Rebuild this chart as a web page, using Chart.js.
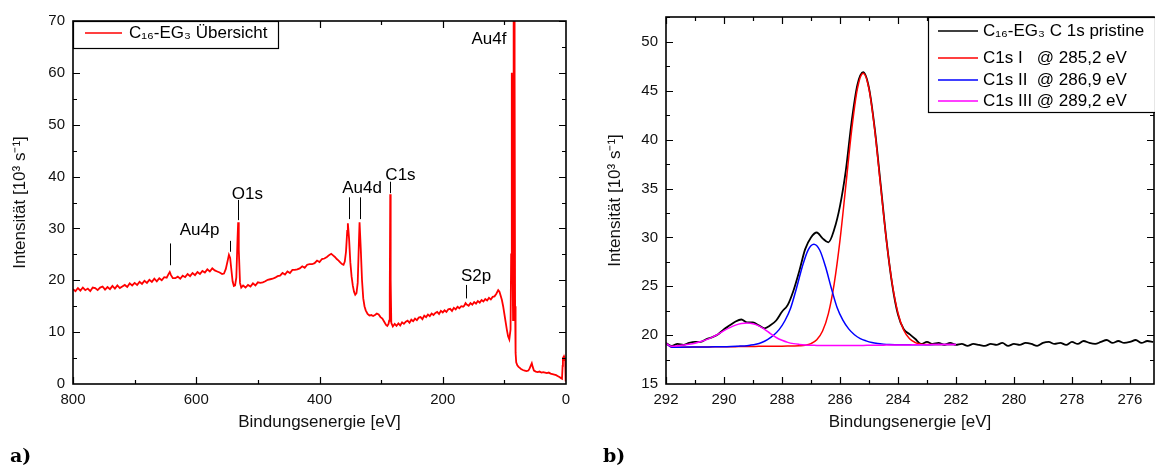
<!DOCTYPE html>
<html>
<head>
<meta charset="utf-8">
<script src="https://cdn.jsdelivr.net/npm/chart.js@4.4.1/dist/chart.umd.min.js"></script>
<style>
  body { margin: 0; background: #fff; width: 1155px; height: 466px; overflow: hidden; position: relative; }
  .panel { position: absolute; top: 0; }
  .tag { position: absolute; top: 446px; font: bold 19px 'DejaVu Serif', 'Liberation Serif', serif; line-height: 19px; color: #000; }
</style>
</head>
<body>
<canvas id="survey" class="panel" width="580" height="466" style="left:0"></canvas>
<canvas id="detail" class="panel" width="575" height="466" style="left:580px"></canvas>
<div class="tag" style="left:10px">a)</div>
<div class="tag" style="left:603px">b)</div>
<script>
// ---- a) survey spectrum ----
const surveyEnergy = [
  800, 796, 792, 788, 784, 780, 776, 772, 768, 764, 760, 756, 752, 748, 744, 740, 736, 732,
  728, 724, 720, 716, 712, 708, 704, 700, 696, 692, 688, 684, 680, 676, 672, 668, 664, 660,
  656, 652, 648, 645, 643, 641, 638, 634, 630, 626, 622, 618, 614, 610, 606, 602, 598, 594,
  590, 586, 582, 578, 574, 570, 566, 562, 558, 555, 552, 549, 547, 545, 543, 541, 539, 537,
  535, 533, 532, 531, 529, 527,
  524, 520, 516, 512, 508, 504, 500, 496, 492, 488, 484, 480, 476, 472, 468, 464, 460, 456,
  452, 448, 444, 440, 436, 432, 428, 424, 420, 416, 412, 408, 404, 400, 396, 392, 388, 384,
  381, 378, 375, 372, 369, 366, 363, 361, 359, 357, 355, 354, 352, 350, 348, 346, 344, 342,
  340, 338, 336, 335, 333, 331, 329, 327, 325, 322, 319, 316, 313, 310, 307, 304, 301, 298,
  295, 292, 290, 288, 287, 286, 285.2, 284.5, 283.5,
  281, 278, 275, 272, 269, 266, 263, 260, 257, 254, 251, 248, 245, 242, 239, 236, 233, 230,
  227, 224, 221, 218, 215, 212, 209, 206, 203, 200, 197, 194, 191, 188, 185, 182, 179, 176,
  173, 170, 167, 165, 163, 161, 158, 155, 152, 149, 146, 143, 140, 137, 134, 131, 128, 125,
  122, 119, 116, 113, 110,
  108, 106, 104, 102, 100, 98, 96, 94, 92, 90, 89, 88.2, 87.7, 87.2, 86.5, 85.9, 85.3, 84.6,
  84, 83.4, 82.6, 81.8, 80.8, 79, 77, 75, 73, 70, 67, 64, 61, 59, 57, 55.5, 54, 52,
  49, 46, 43, 40, 37, 34, 31, 28, 25, 22, 19, 16, 13, 10, 8, 6.5, 5.5, 5,
  4, 3, 2, 1.3, 0.8, 0.3
]
const surveyCounts = [
  18.3, 17.9, 18.5, 18.0, 18.6, 18.1, 18.4, 17.9, 18.6, 18.5, 18.1, 18.6, 18.8, 18.2, 18.7, 18.3, 18.9, 18.4,
  19.0, 18.5, 18.8, 19.1, 18.7, 19.4, 19.0, 19.5, 19.1, 19.7, 19.3, 19.9, 19.5, 20.1, 19.7, 20.3, 19.8, 20.4,
  20.0, 20.6, 20.5, 21.2, 21.6, 21.0, 20.4, 20.4, 20.7, 20.3, 20.9, 20.6, 21.2, 20.8, 21.4, 21.0, 21.6, 21.2,
  21.8, 21.5, 22.1, 21.7, 22.3, 21.9, 21.7, 21.5, 21.2, 21.3, 22.2, 23.8, 24.9, 24.3, 22.0, 19.8, 18.9, 19.0,
  20.5, 28.0, 31.2, 26.0, 19.5, 18.6,
  19.0, 18.6, 19.1, 18.8, 19.4, 19.0, 19.6, 19.5, 19.6, 19.8, 20.1, 20.2, 20.3, 20.5, 20.8, 20.9, 21.4, 21.1,
  21.7, 21.4, 22.0, 22.0, 22.1, 22.3, 22.7, 22.4, 23.0, 23.1, 23.1, 23.3, 23.8, 23.5, 24.1, 24.2, 24.5, 24.9,
  25.1, 24.8, 24.5, 24.1, 23.8, 23.4, 23.1, 23.0, 23.6, 25.5, 29.5, 31.0, 28.0, 23.5, 20.8, 19.0, 17.8, 17.2,
  17.5, 19.5, 27.5, 31.2, 26.0, 20.0, 16.5, 15.0, 14.2, 13.5, 13.2, 13.3, 13.1, 13.3, 13.6, 13.4, 12.9, 12.6,
  12.0, 11.4, 11.2, 11.6, 12.2, 17.0, 36.6, 20.0, 11.8,
  11.1, 11.6, 11.2, 11.7, 11.3, 11.9, 11.6, 12.0, 12.2, 11.8, 12.4, 12.1, 12.6, 12.3, 12.8, 12.9, 12.5, 13.2,
  12.9, 13.4, 13.1, 13.6, 13.3, 13.7, 13.9, 13.5, 14.1, 13.8, 14.2, 13.9, 14.4, 14.5, 14.1, 14.7, 14.4, 14.9,
  14.6, 15.0, 14.9, 15.1, 15.6, 15.3, 15.1, 15.6, 15.3, 15.8, 15.5, 16.0, 15.7, 16.2, 15.9, 16.4, 16.1, 16.6,
  16.3, 16.8, 16.9, 17.4, 18.1,
  17.8, 17.0, 16.2, 15.0, 13.5, 12.0, 10.5, 9.2, 8.6, 10.5, 25, 55, 60, 50, 20, 12.3, 20, 70,
  95, 60, 15, 6, 4.2, 3.6, 3.3, 3.1, 2.9, 2.7, 2.6, 2.5, 2.6, 3.0, 3.6, 4.0, 3.3, 2.6,
  2.4, 2.3, 2.4, 2.2, 2.3, 2.2, 2.1, 2.2, 2.0, 1.9, 1.8, 1.7, 1.5, 1.3, 1.1, 1.0, 3.5, 5.0,
  5.2, 4.6, 5.0, 4.8, 2.0, 0.5
]
const surveyTicksX = [800, 600, 400, 200, 0]
const surveyMinorX = [700, 500, 300, 100]
const surveyTicksY = [0, 10, 20, 30, 40, 50, 60, 70]
const surveyMinorY = [5, 15, 25, 35, 45, 55, 65]

// peak labels and the little marker strokes above the peaks
const peakNames = ['Au4f', 'C1s', 'Au4d', 'O1s', 'Au4p', 'S2p']
const nameEnergy = [125, 268.6, 331, 517, 594.7, 146]
const nameLevel = [66.5, 40.3, 37.7, 36.6, 29.7, 20.7]
const markEnergy = [643, 546, 532.5, 352.5, 335, 285.5, 163]
const markFrom = [22.9, 25.5, 31.6, 31.8, 31.8, 36.8, 16.5]
const markTo = [27.1, 27.6, 35.5, 36.0, 36.0, 39.0, 19.1]

// ---- b) C 1s detail ----
const measEnergy = [
  292.0, 291.8, 291.6, 291.4, 291.2, 291.0, 290.8, 290.6, 290.4, 290.2,
  290.0, 289.8, 289.6, 289.4, 289.2, 289.0, 288.8, 288.6, 288.4, 288.2,
  288.0, 287.8, 287.6, 287.4, 287.2, 287.0, 286.8, 286.6, 286.4, 286.2,
  286.0, 285.8, 285.6, 285.4, 285.2, 285.0, 284.8, 284.6, 284.4, 284.2,
  284.0, 283.8, 283.6, 283.4, 283.2, 283.0, 282.8, 282.6, 282.4, 282.2,
  282.0, 281.8, 281.6, 281.4, 281.2, 281.0, 280.8, 280.6, 280.4, 280.2,
  280.0, 279.8, 279.6, 279.4, 279.2, 279.0, 278.8, 278.6, 278.4, 278.2,
  278.0, 277.8, 277.6, 277.4, 277.2, 277.0, 276.8, 276.6, 276.4, 276.2,
  276.0, 275.8, 275.6, 275.4, 275.2
]
const measCounts = [
  19.2, 18.9, 19.1, 19.0, 19.2, 19.3, 19.3, 19.6, 19.8, 20.1,
  20.6, 21.0, 21.4, 21.6, 21.3, 21.3, 21.0, 20.7, 21.0, 21.5,
  22.4, 23.1, 24.6, 26.6, 28.8, 30.0, 30.5, 29.9, 29.5, 30.8,
  33.2, 36.8, 41.8, 45.6, 46.9, 45.3, 41.1, 35.5, 29.8, 25.2,
  22.1, 20.6, 20.1, 19.6, 19.1, 19.3, 19.1, 19.2, 19.0, 19.2,
  19.0, 19.1, 18.9, 19.1, 19.0, 18.9, 19.1, 19.0, 19.2, 18.9,
  19.1, 19.0, 19.2, 19.1, 18.9, 19.2, 19.3, 19.1, 19.2, 19.0,
  19.3, 19.1, 19.4, 19.2, 19.1, 19.3, 19.5, 19.2, 19.4, 19.2,
  19.3, 19.5, 19.2, 19.4, 19.3
]
const fitEnergy = [
  292.0, 291.8, 291.6, 291.4, 291.2, 291.0, 290.8, 290.6, 290.4, 290.2,
  290.0, 289.8, 289.6, 289.4, 289.2, 289.0, 288.8, 288.6, 288.4, 288.2,
  288.0, 287.8, 287.6, 287.4, 287.2, 287.0, 286.8, 286.6, 286.4, 286.2,
  286.0, 285.8, 285.6, 285.4, 285.2, 285.0, 284.8, 284.6, 284.4, 284.2,
  284.0, 283.8, 283.6, 283.4, 283.2, 283.0, 282.8, 282.6, 282.4, 282.2,
  282.0
]
const peak1Counts = [
  19.15, 18.76, 18.76, 18.77, 18.77, 18.78, 18.79, 18.79, 18.80, 18.80,
  18.81, 18.82, 18.82, 18.83, 18.83, 18.84, 18.85, 18.85, 18.86, 18.86,
  18.87, 18.88, 18.89, 18.91, 18.96, 19.13, 19.53, 20.42, 22.2, 25.24,
  29.69, 35.25, 40.9, 45.2, 46.8, 45.2, 40.95, 35.3, 29.75, 25.3,
  22.27, 20.5, 19.63, 19.24, 19.08, 19.04, 19.03, 19.04, 19.04, 19.05,
  19.05
]
const peak3Counts = [
  19.15, 18.86, 18.92, 18.99, 19.07, 19.18, 19.34, 19.54, 19.80, 20.10,
  20.46, 20.77, 21.02, 21.18, 21.23, 21.16, 20.95, 20.60, 20.16, 19.76,
  19.47, 19.26, 19.13, 19.05, 18.99, 18.96, 18.95, 18.93, 18.93, 18.93,
  18.94, 18.94, 18.94, 18.95, 18.95, 18.96, 18.97, 18.97, 18.98, 18.98,
  18.99, 19.00, 19.00, 19.01, 19.01, 19.02, 19.03, 19.03, 19.04, 19.04,
  19.05
]
const peak2Energy = [
  292.0, 291.8, 291.5, 291.1, 290.7, 290.3, 289.9, 289.5, 289.3, 289.1,
  288.9, 288.7, 288.5, 288.3, 288.1, 287.9, 287.7, 287.5, 287.3, 287.1,
  286.9, 286.7, 286.5, 286.3, 286.1, 285.9, 285.7, 285.5, 285.3, 285.1,
  284.9, 284.7, 284.5, 284.3, 284.1, 283.7, 283.3, 282.9, 282.5, 282.0
]
const peak2Counts = [
  19.15, 18.76, 18.77, 18.78, 18.79, 18.80, 18.82, 18.87, 18.90, 18.97,
  19.07, 19.25, 19.55, 19.96, 20.56, 21.47, 22.78, 24.8, 27.0, 28.7,
  29.3, 28.71, 27.02, 24.82, 22.83, 21.53, 20.64, 20.04, 19.65, 19.41,
  19.24, 19.14, 19.08, 19.04, 19.02, 19.01, 19.01, 19.02, 19.04, 19.05
]
const detailTicksX = [292, 290, 288, 286, 284, 282, 280, 278, 276]
const detailMinorX = [291, 289, 287, 285, 283, 281, 279, 277, 275]
const detailTicksY = [15, 20, 25, 30, 35, 40, 45, 50]
const detailMinorY = [17.5, 22.5, 27.5, 32.5, 37.5, 42.5, 47.5, 52.5]

const surveyLegend = [{ text: 'C₁₆-EG₃ Übersicht', color: '#ff0000' }]
const detailLegend = [
  { text: 'C₁₆-EG₃ C 1s pristine', color: '#000000' },
  { text: 'C1s I   @ 285,2 eV', color: '#ff0000' },
  { text: 'C1s II  @ 286,9 eV', color: '#0000ff' },
  { text: 'C1s III @ 289,2 eV', color: '#ff00ff' }
]

const FAMILY = "'Liberation Sans', Arial, sans-serif"
const pts = (xs, ys) => xs.map((x, i) => ({ x, y: ys[i] }))

function frameTicks(xMajor, xMinor, yMajor, yMinor) {
  return {
    id: 'frameTicks',
    afterDatasetsDraw(chart) {
      const { ctx, chartArea: a, scales: { x, y } } = chart
      ctx.save()
      ctx.strokeStyle = '#000'
      ctx.lineWidth = 1.2
      ctx.beginPath()
      const vx = (v, len) => {
        const p = Math.round(x.getPixelForValue(v)) + 0.5
        if (p < a.left || p > a.right) return
        ctx.moveTo(p, a.bottom); ctx.lineTo(p, a.bottom - len)
        ctx.moveTo(p, a.top); ctx.lineTo(p, a.top + len)
      }
      const vy = (v, len) => {
        const p = Math.round(y.getPixelForValue(v)) + 0.5
        if (p < a.top || p > a.bottom) return
        ctx.moveTo(a.left, p); ctx.lineTo(a.left + len, p)
        ctx.moveTo(a.right, p); ctx.lineTo(a.right - len, p)
      }
      xMajor.forEach(v => vx(v, 7)); xMinor.forEach(v => vx(v, 4))
      yMajor.forEach(v => vy(v, 7)); yMinor.forEach(v => vy(v, 4))
      ctx.stroke()
      ctx.lineWidth = 1.6
      ctx.strokeRect(a.left, a.top, a.right - a.left, a.bottom - a.top)
      ctx.restore()
    }
  }
}

// boxed legend drawn inside the plot, line sample + text per row
function boxLegend(items, box) {
  return {
    id: 'boxLegend',
    afterDraw(chart) {
      const { ctx, chartArea: a } = chart
      const left = a.left + box.dx, top = a.top
      ctx.save()
      ctx.fillStyle = '#fff'
      ctx.fillRect(left, top, box.w, box.h)
      ctx.strokeStyle = '#000'
      ctx.lineWidth = 1.2
      ctx.strokeRect(left + 0.5, top + 0.5, box.w - 1, box.h - 1)
      ctx.font = '17px ' + FAMILY
      ctx.textBaseline = 'middle'
      ctx.textAlign = 'left'
      items.forEach((it, i) => {
        const yy = top + box.rows[i]
        ctx.strokeStyle = it.color
        ctx.lineWidth = 1.5
        ctx.beginPath()
        ctx.moveTo(left + box.l0, yy); ctx.lineTo(left + box.l1, yy)
        ctx.stroke()
        ctx.fillStyle = '#000'
        ctx.fillText(it.text, left + box.tx, yy)
      })
      ctx.restore()
    }
  }
}

const peakMarks = {
  id: 'peakMarks',
  afterDatasetsDraw(chart) {
    const { ctx, scales: { x, y } } = chart
    ctx.save()
    ctx.strokeStyle = '#000'
    ctx.lineWidth = 1
    ctx.beginPath()
    markEnergy.forEach((e, i) => {
      const p = Math.round(x.getPixelForValue(e)) + 0.5
      ctx.moveTo(p, y.getPixelForValue(markFrom[i]))
      ctx.lineTo(p, y.getPixelForValue(markTo[i]))
    })
    ctx.stroke()
    ctx.fillStyle = '#000'
    ctx.font = '17px ' + FAMILY
    ctx.textAlign = 'center'
    ctx.textBaseline = 'middle'
    peakNames.forEach((t, i) => ctx.fillText(t, x.getPixelForValue(nameEnergy[i]), y.getPixelForValue(nameLevel[i])))
    ctx.restore()
  }
}

function xAxis(min, max, ticks) {
  return {
    type: 'linear', min, max, reverse: true,
    grid: { display: false, drawTicks: false },
    border: { display: false },
    afterBuildTicks: s => { s.ticks = ticks.map(v => ({ value: v })) },
    afterFit: s => { s.height = 82 },
    ticks: { padding: 7, autoSkip: false, maxRotation: 0, color: '#111', font: { size: 15, family: FAMILY } },
    title: {
      display: true, text: 'Bindungsenergie [eV]', color: '#111',
      font: { size: 17, family: FAMILY }, padding: { top: 0, bottom: 33 }
    }
  }
}

function yAxis(min, max, ticks, width, titlePad) {
  return {
    type: 'linear', min, max,
    grid: { display: false, drawTicks: false },
    border: { display: false },
    afterBuildTicks: s => { s.ticks = ticks.map(v => ({ value: v })) },
    afterFit: s => { s.width = width },
    ticks: { padding: 8, autoSkip: false, color: '#111', font: { size: 15, family: FAMILY } },
    title: {
      display: true, text: 'Intensität [10³ s⁻¹]', color: '#111',
      font: { size: 17, family: FAMILY }, padding: { top: titlePad, bottom: 0 }
    }
  }
}

const common = {
  responsive: false,
  animation: false,
  events: [],
  plugins: { legend: { display: false }, tooltip: { enabled: false } }
}

new Chart(document.getElementById('survey'), {
  type: 'line',
  data: {
    datasets: [{
      data: pts(surveyEnergy, surveyCounts),
      borderColor: '#ff0000', borderWidth: 1.8, pointRadius: 0, tension: 0
    }]
  },
  options: {
    ...common,
    layout: { padding: { top: 21, right: 14, left: 0, bottom: 0 } },
    scales: { x: xAxis(0, 800, surveyTicksX), y: yAxis(0, 70, surveyTicksY, 73, 10) }
  },
  plugins: [
    peakMarks,
    frameTicks(surveyTicksX, surveyMinorX, surveyTicksY, surveyMinorY),
    boxLegend(surveyLegend, { dx: 0, w: 206, h: 28, rows: [12], l0: 12, l1: 49, tx: 56 })
  ]
})

new Chart(document.getElementById('detail'), {
  type: 'line',
  data: {
    datasets: [
      { data: pts(measEnergy, measCounts), borderColor: '#000000', borderWidth: 1.8, pointRadius: 0, cubicInterpolationMode: 'monotone', order: 4 },
      { data: pts(fitEnergy, peak1Counts), borderColor: '#ff0000', borderWidth: 1.5, pointRadius: 0, cubicInterpolationMode: 'monotone', order: 3 },
      { data: pts(peak2Energy, peak2Counts), borderColor: '#0000ff', borderWidth: 1.5, pointRadius: 0, cubicInterpolationMode: 'monotone', order: 2 },
      { data: pts(fitEnergy, peak3Counts), borderColor: '#ff00ff', borderWidth: 1.5, pointRadius: 0, cubicInterpolationMode: 'monotone', order: 1 }
    ]
  },
  options: {
    ...common,
    layout: { padding: { top: 16, right: 1, left: 0, bottom: 0 } },
    scales: { x: xAxis(275.17, 292, detailTicksX), y: yAxis(15, 52.55, detailTicksY, 86, 25) }
  },
  plugins: [
    frameTicks(detailTicksX, detailMinorX, detailTicksY, detailMinorY),
    boxLegend(detailLegend, { dx: 262, w: 228, h: 96, rows: [14, 41, 63, 84], l0: 10, l1: 50, tx: 55 })
  ]
})
</script>
</body>
</html>
